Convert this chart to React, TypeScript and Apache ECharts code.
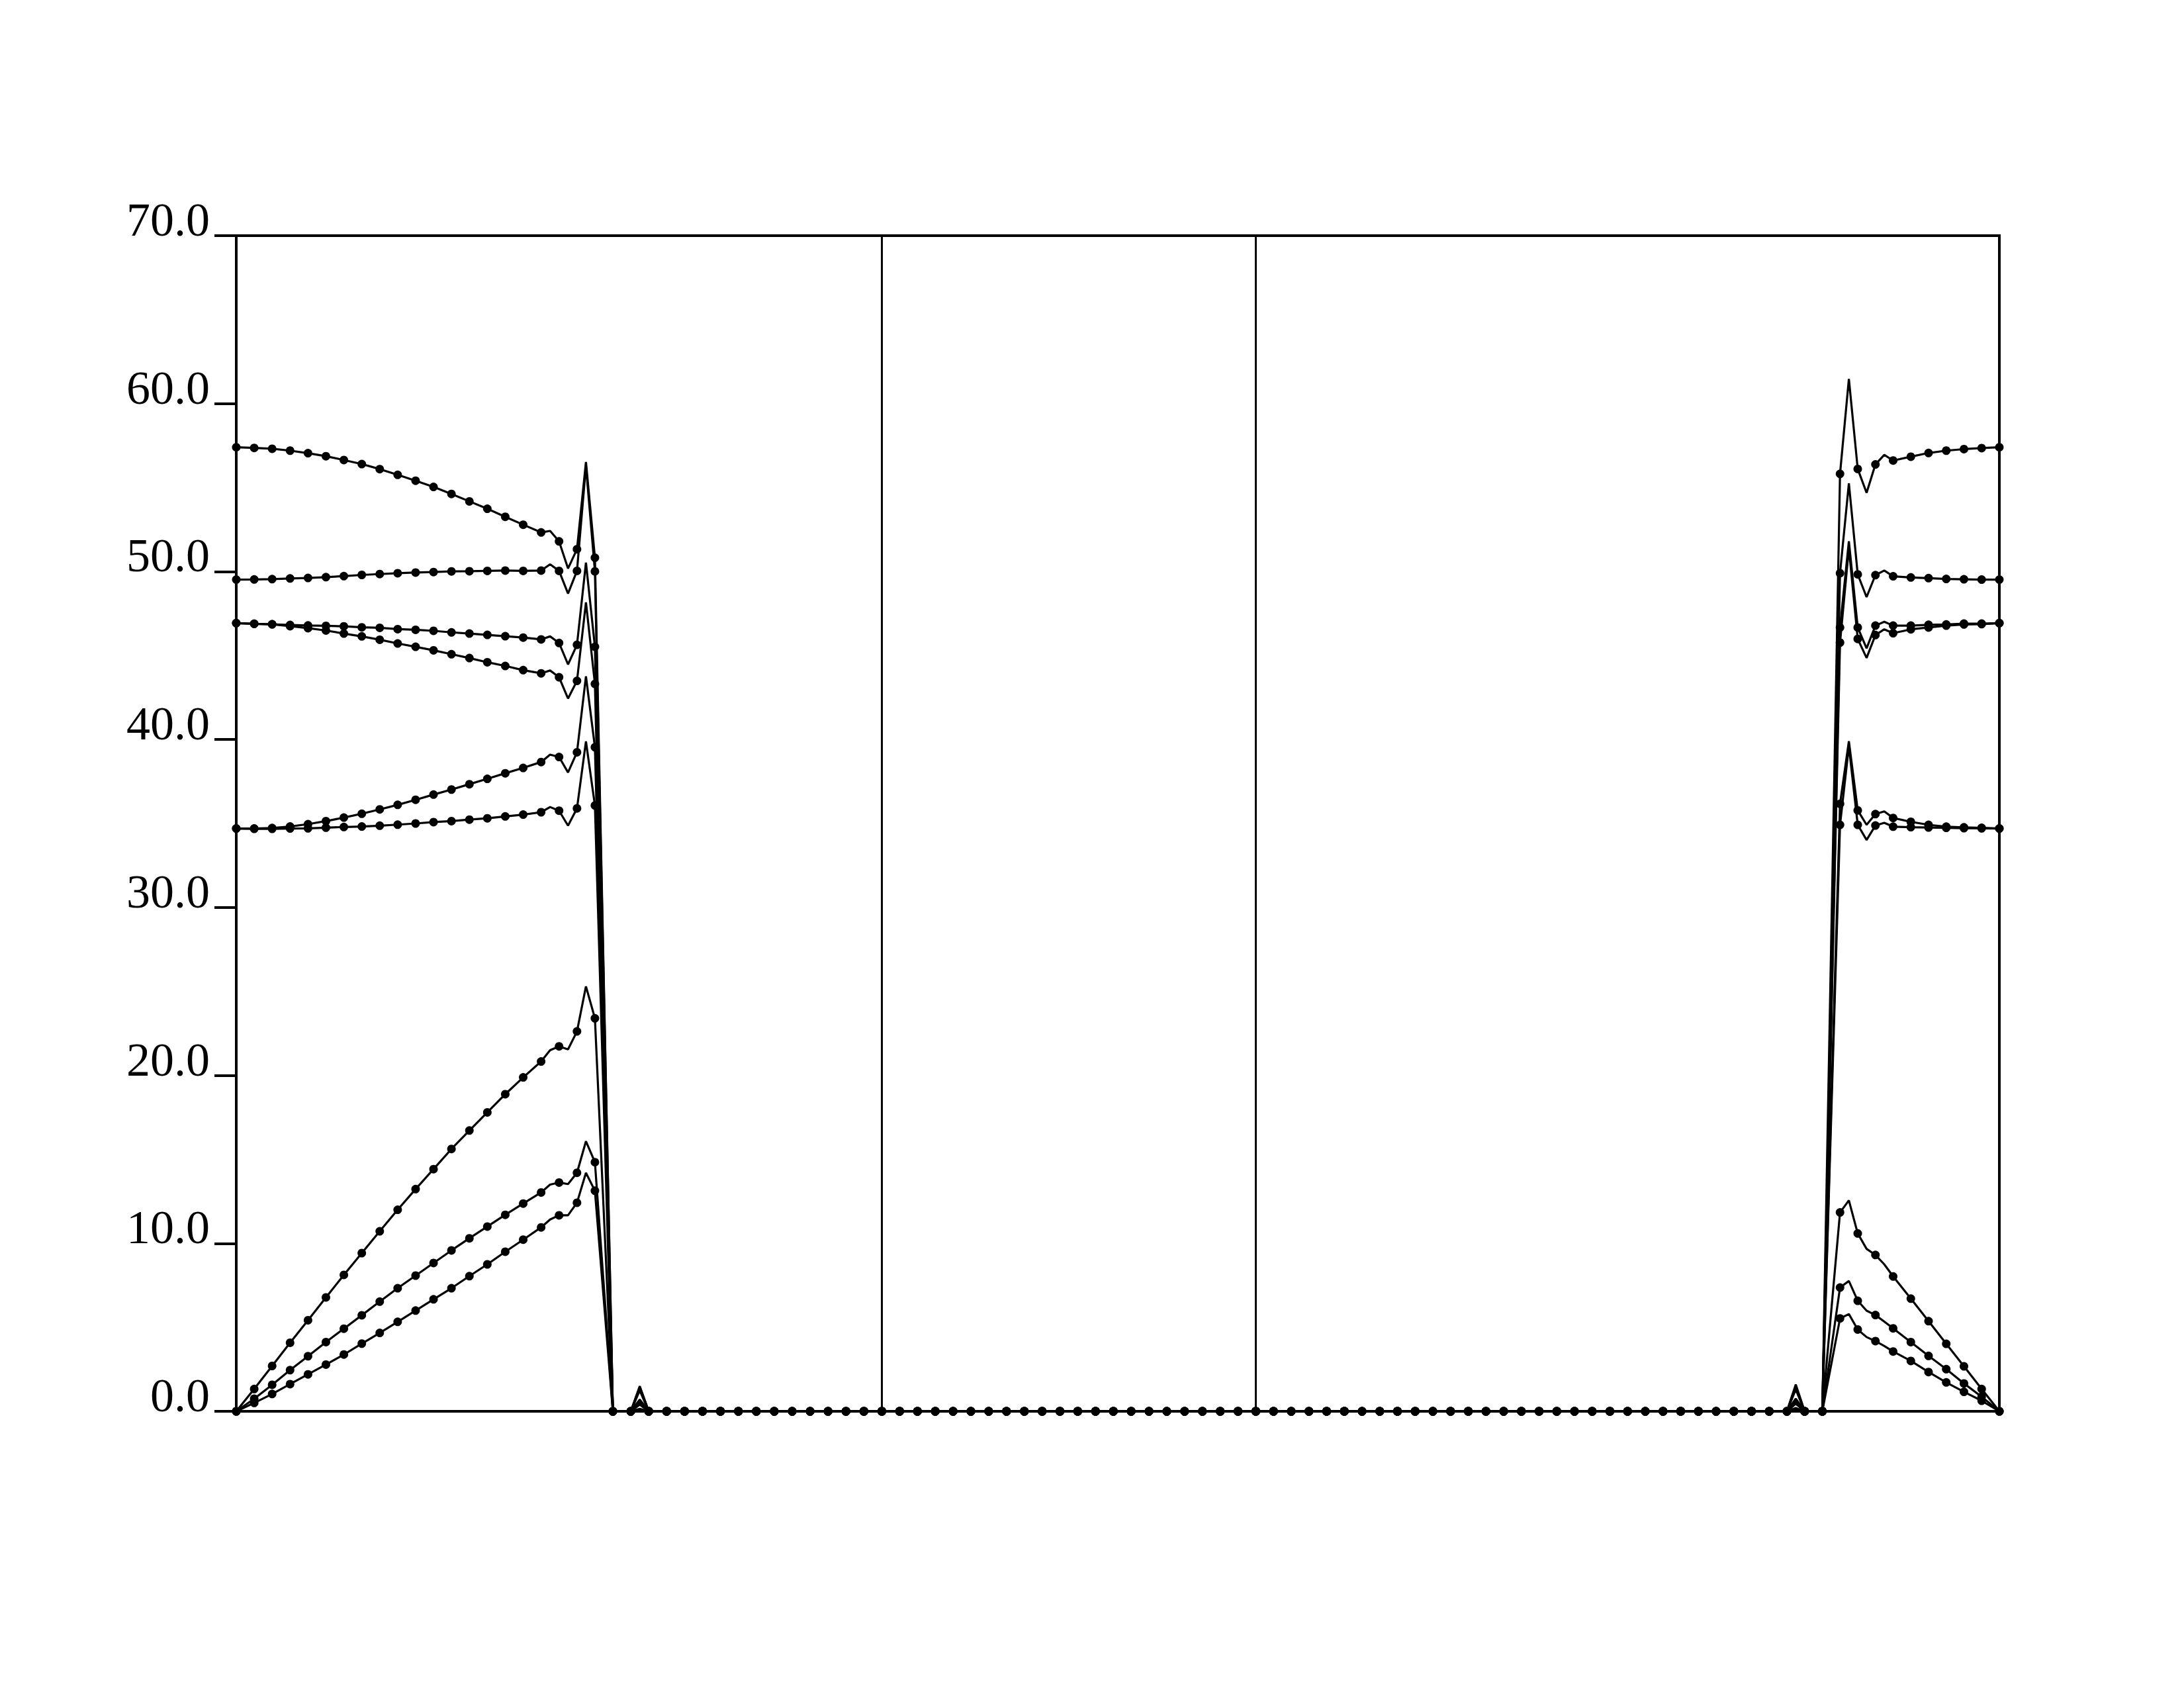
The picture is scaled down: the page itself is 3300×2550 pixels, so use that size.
import React, { useEffect, useRef } from "react";
import * as echarts from "echarts";

// ---- axis / layout description ----
const yTickValues = [0, 10, 20, 30, 40, 50, 60, 70];
const LEFT_LEN = 36.25;
const MID_LEN = 21;
const RIGHT_LEN = 41.75;
const LEFT_N = 36;
const MID_N = 21;
const RIGHT_N = 42;
const X_MAX = LEFT_LEN + MID_LEN + RIGHT_LEN;
const boundaries = [LEFT_LEN, LEFT_LEN + MID_LEN];

// ---- sampling steps ----
const leftSteps = [0, 1, 2, 3, 4, 5, 6, 7, 8, 9, 10, 11, 12, 13, 14, 15, 16, 17, 17.5, 18, 18.5, 19, 19.5, 20];
const rightSteps = [33, 33.5, 34, 34.5, 35, 35.5, 36, 37, 38, 39, 40, 41, 42];
const leftZeroSteps = [21, 22, 22.5, 23, 24, 25, 26, 27, 28, 29, 30, 31, 32, 33, 34, 35, 36];
const midSteps = [1, 2, 3, 4, 5, 6, 7, 8, 9, 10, 11, 12, 13, 14, 15, 16, 17, 18, 19, 20];
const rightZeroSteps = [0, 1, 2, 3, 4, 5, 6, 7, 8, 9, 10, 11, 12, 13, 14, 15, 16, 17, 18, 19, 20, 21, 22, 23, 24, 25, 26, 27, 28, 29, 30, 30.5, 31, 32];
const leftSpikeStep = 22.5;
const rightSpikeStep = 30.5;

// ---- series values (left part, at leftSteps) ----
const leftA = [57.40, 57.36, 57.31, 57.20, 57.05, 56.87, 56.64, 56.40, 56.10, 55.76, 55.41, 55.04, 54.62, 54.18, 53.74, 53.26, 52.79, 52.33, 52.42, 51.80, 50.18, 51.33, 56.52, 50.82];
const leftB = [49.52, 49.53, 49.55, 49.59, 49.62, 49.67, 49.73, 49.80, 49.85, 49.90, 49.94, 49.97, 50.01, 50.02, 50.04, 50.06, 50.04, 50.06, 50.43, 50.04, 48.69, 50.04, 56.30, 50.01];
const leftC1 = [46.93, 46.89, 46.86, 46.82, 46.79, 46.77, 46.74, 46.68, 46.65, 46.57, 46.53, 46.47, 46.38, 46.31, 46.23, 46.15, 46.07, 45.96, 46.14, 45.75, 44.47, 45.64, 50.53, 45.52];
const leftC2 = [46.93, 46.89, 46.86, 46.75, 46.63, 46.49, 46.31, 46.14, 45.94, 45.72, 45.52, 45.31, 45.08, 44.85, 44.60, 44.38, 44.13, 43.94, 44.11, 43.71, 42.44, 43.49, 48.17, 43.31];
const leftE1 = [34.70, 34.70, 34.73, 34.82, 34.96, 35.14, 35.35, 35.58, 35.84, 36.11, 36.41, 36.72, 37.02, 37.34, 37.66, 37.99, 38.31, 38.66, 39.10, 38.96, 38.04, 39.24, 43.76, 39.54];
const leftE2 = [34.70, 34.68, 34.68, 34.70, 34.71, 34.75, 34.79, 34.82, 34.87, 34.93, 35.00, 35.08, 35.14, 35.23, 35.31, 35.42, 35.53, 35.67, 35.98, 35.76, 34.87, 35.90, 39.89, 36.07];
const leftF = [0, 1.33, 2.70, 4.08, 5.42, 6.78, 8.12, 9.42, 10.72, 12.00, 13.23, 14.42, 15.62, 16.72, 17.80, 18.88, 19.88, 20.83, 21.50, 21.73, 21.55, 22.62, 25.30, 23.40];
const leftG = [0, 0.75, 1.58, 2.45, 3.28, 4.12, 4.92, 5.72, 6.53, 7.33, 8.08, 8.83, 9.58, 10.30, 11.00, 11.70, 12.37, 13.03, 13.50, 13.62, 13.53, 14.20, 16.08, 14.83];
const leftH = [0, 0.50, 1.03, 1.62, 2.20, 2.78, 3.38, 4.03, 4.67, 5.33, 6.00, 6.67, 7.33, 8.05, 8.75, 9.50, 10.22, 10.95, 11.42, 11.67, 11.67, 12.42, 14.20, 13.13];

// ---- series values (right part, at rightSteps) ----
const rightA = [55.82, 61.47, 56.11, 54.69, 56.38, 56.95, 56.61, 56.84, 57.06, 57.20, 57.29, 57.35, 57.40];
const rightB = [49.90, 55.25, 49.83, 48.48, 49.79, 50.06, 49.72, 49.65, 49.61, 49.56, 49.54, 49.52, 49.52];
const rightC1 = [46.67, 51.80, 46.67, 45.43, 46.78, 47.01, 46.78, 46.78, 46.83, 46.85, 46.90, 46.90, 46.93];
const rightC2 = [45.77, 51.40, 45.99, 44.86, 46.22, 46.56, 46.33, 46.56, 46.67, 46.78, 46.85, 46.87, 46.93];
const rightE1 = [36.17, 39.90, 35.78, 34.92, 35.56, 35.72, 35.33, 35.10, 34.92, 34.81, 34.77, 34.74, 34.70];
const rightE2 = [34.92, 39.60, 34.92, 34.02, 34.88, 35.04, 34.81, 34.78, 34.76, 34.74, 34.72, 34.71, 34.70];
const rightF = [11.84, 12.56, 10.59, 9.67, 9.31, 8.75, 8.03, 6.71, 5.37, 4.02, 2.68, 1.33, 0];
const rightG = [7.37, 7.76, 6.58, 5.99, 5.73, 5.34, 4.94, 4.12, 3.30, 2.51, 1.66, 0.87, 0];
const rightH = [5.53, 5.79, 4.87, 4.42, 4.18, 3.89, 3.56, 3.00, 2.34, 1.72, 1.16, 0.63, 0];

// ---- small spikes in the flat (zero) stretches ----
const spikeLeft = [1.5, 1.45, 1.35, 1.25, 0.7, 0.55, 0.4, 0.15, 0.1];
const spikeRight = [1.6, 1.5, 1.4, 1.3, 0.75, 0.6, 0.45, 0.2, 0.1];
const ZERO = 0;

const leftSets = [leftA, leftB, leftC1, leftC2, leftE1, leftE2, leftF, leftG, leftH];
const rightSets = [rightA, rightB, rightC1, rightC2, rightE1, rightE2, rightF, rightG, rightH];
const seriesNames = ["A", "B", "C1", "C2", "E1", "E2", "F", "G", "H"];

const xLeft = (s: number) => (s * LEFT_LEN) / LEFT_N;
const xMid = (s: number) => LEFT_LEN + (s * MID_LEN) / MID_N;
const xRight = (s: number) => LEFT_LEN + MID_LEN + (s * RIGHT_LEN) / RIGHT_N;

const pt = (x: number, y: number, step: number) => ({
  value: [x, y],
  symbol: Number.isInteger(step) ? "circle" : "none",
});

function buildSeries(i: number) {
  const data: any[] = [];
  leftSteps.forEach((s, k) => data.push(pt(xLeft(s), leftSets[i][k], s)));
  leftZeroSteps.forEach((s) => data.push(pt(xLeft(s), s === leftSpikeStep ? spikeLeft[i] : ZERO, s)));
  midSteps.forEach((s) => data.push(pt(xMid(s), ZERO, s)));
  rightZeroSteps.forEach((s) => data.push(pt(xRight(s), s === rightSpikeStep ? spikeRight[i] : ZERO, s)));
  rightSteps.forEach((s, k) => data.push(pt(xRight(s), rightSets[i][k], s)));
  return data;
}

export default function App() {
  const ref = useRef<HTMLDivElement>(null);
  useEffect(() => {
    if (!ref.current) return;
    const chart = echarts.init(ref.current, undefined, { renderer: "svg" });
    const series: any[] = seriesNames.map((name, i) => ({
      name,
      type: "line",
      data: buildSeries(i),
      symbol: "circle",
      symbolSize: 13,
      showSymbol: true,
      showAllSymbol: true,
      lineStyle: { color: "#000", width: 3.2 },
      itemStyle: { color: "#000" },
      z: 3,
      ...(i === 0
        ? {
            markLine: {
              silent: true,
              symbol: ["none", "none"],
              label: { show: false },
              lineStyle: { color: "#000", width: 3, type: "solid" },
              data: boundaries.map((b) => ({ xAxis: b })),
            },
          }
        : {}),
    }));
    chart.setOption({
      animation: false,
      backgroundColor: "#fff",
      grid: {
        left: 357,
        right: 279,
        top: 356,
        bottom: 418,
        show: true,
        borderColor: "#000",
        borderWidth: 4,
        backgroundColor: "transparent",
      },
      xAxis: {
        type: "value",
        min: 0,
        max: X_MAX,
        axisLine: { show: true, lineStyle: { color: "#000", width: 4 } },
        axisTick: { show: false },
        axisLabel: { show: false },
        splitLine: { show: false },
      },
      yAxis: {
        type: "value",
        min: yTickValues[0],
        max: yTickValues[yTickValues.length - 1],
        interval: 10,
        axisLine: { show: true, lineStyle: { color: "#000", width: 4 } },
        axisTick: { show: true, inside: false, length: 33, lineStyle: { color: "#000", width: 4 } },
        axisLabel: {
          show: true,
          formatter: (v: number) => v.toFixed(1),
          fontFamily: "Liberation Serif",
          fontSize: 72,
          color: "#000",
          margin: 40,
          verticalAlign: "bottom",
          lineHeight: 48,
        },
        splitLine: { show: false },
      },
      series,
    });
    return () => chart.dispose();
  }, []);
  return (
    <div
      ref={ref}
      style={{ position: "absolute", left: 0, top: 0, width: 3300, height: 2550, background: "#fff" }}
    />
  );
}
